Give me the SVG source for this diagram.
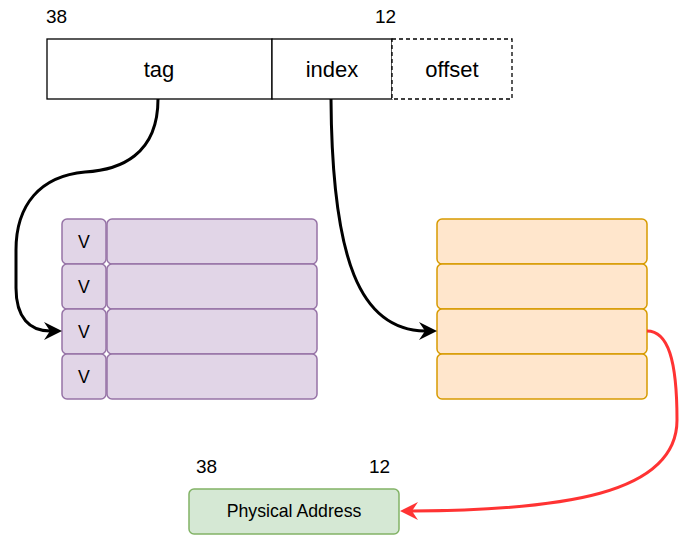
<svg xmlns="http://www.w3.org/2000/svg" width="696" height="543" viewBox="0 0 696 543">
<style>
text{font-family:"Liberation Sans",Arial,sans-serif;fill:#000;text-anchor:middle}
.big{font-size:22px}
.sm{font-size:17.7px}
.lbl{font-size:19px;text-anchor:start}
.addr{fill:#fff;stroke:#000;stroke-width:1.3}
.pu{fill:#e1d5e7;stroke:#9673a6;stroke-width:1.5}
.or{fill:#ffe6cc;stroke:#d79b00;stroke-width:1.5}
.gr{fill:#d5e8d4;stroke:#82b366;stroke-width:1.5}
.edge{fill:none;stroke:#000;stroke-width:3}
.red{fill:none;stroke:#ff3333;stroke-width:3}
</style>
<g id="labels-top">
<text class="lbl" x="46" y="23">38</text>
<text class="lbl" x="375" y="23">12</text>
</g>
<g id="tag"><rect class="addr" x="47" y="39" width="225" height="60"/><text class="big" x="159" y="77">tag</text></g>
<g id="index"><rect class="addr" x="272" y="39" width="120" height="60"/><text class="big" x="332" y="77">index</text></g>
<g id="offset"><rect x="392" y="39" width="120" height="60" fill="#fff" stroke="#000" stroke-width="1.3" stroke-dasharray="4 3"/><text class="big" x="452" y="77">offset</text></g>
<g id="tag-array">
<rect class="pu" x="62" y="219" width="44" height="45" rx="5"/><rect class="pu" x="107" y="219" width="210" height="45" rx="5"/><text class="sm" x="84" y="248">V</text>
<rect class="pu" x="62" y="264" width="44" height="45" rx="5"/><rect class="pu" x="107" y="264" width="210" height="45" rx="5"/><text class="sm" x="84" y="293">V</text>
<rect class="pu" x="62" y="309" width="44" height="45" rx="5"/><rect class="pu" x="107" y="309" width="210" height="45" rx="5"/><text class="sm" x="84" y="338">V</text>
<rect class="pu" x="62" y="354" width="44" height="45" rx="5"/><rect class="pu" x="107" y="354" width="210" height="45" rx="5"/><text class="sm" x="84" y="383">V</text>
</g>
<g id="data-array">
<rect class="or" x="437" y="219" width="210" height="45" rx="5"/>
<rect class="or" x="437" y="264" width="210" height="45" rx="5"/>
<rect class="or" x="437" y="309" width="210" height="45" rx="5"/>
<rect class="or" x="437" y="354" width="210" height="45" rx="5"/>
</g>
<g id="labels-bottom">
<text class="lbl" x="196" y="473">38</text>
<text class="lbl" x="369" y="473">12</text>
</g>
<g id="physical"><rect class="gr" x="189" y="489" width="210" height="45" rx="5"/><text class="sm" x="294" y="517">Physical Address</text></g>
<g id="connectors">
<path class="edge" d="M158,99 C158,155 120,170 85,172 C40,176 16,205 16,250 L16,288 C16,318 30,331 50,331"/>
<path d="M62,331 L44,322 L50,331 L44,340 Z" fill="#000"/>
<path class="edge" d="M331,99 C332,260 360,330 425,331"/>
<path d="M437,331 L419,322 L425,331 L419,340 Z" fill="#000"/>
<path class="red" d="M647,331 C668,331 677,360 677,420 C677,495 560,510 412,511"/>
<path d="M400,511 L418,502 L412,511 L418,520 Z" fill="#ff3333"/>
</g>
</svg>
